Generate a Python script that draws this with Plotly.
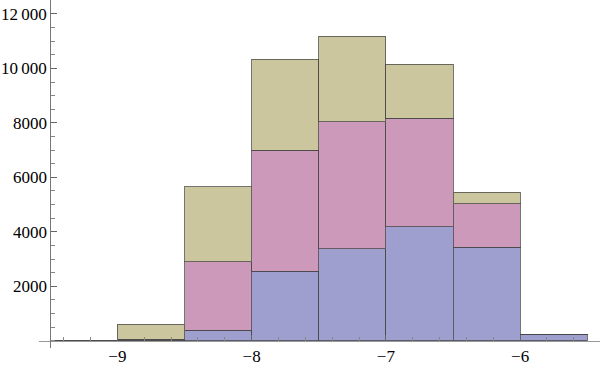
"""Stacked histogram, Mathematica look."""

import plotly.graph_objects as go

# bin centres (bin width 0.5, from -9.5 to -5.5)
bin_centers = [-9.25, -8.75, -8.25, -7.75, -7.25, -6.75, -6.25, -5.75]
blue_counts = [5, 20, 393, 2550, 3369, 4190, 3431, 230]
pink_counts = [10, 40, 2498, 4445, 4677, 3980, 1591, 10]
tan_counts = [10, 540, 2756, 3343, 3137, 1984, 430, 6]

x_tickvals = [-9, -8, -7, -6]
x_ticktext = ["\u22129", "\u22128", "\u22127", "\u22126"]
y_tickvals = [2000, 4000, 6000, 8000, 10000, 12000]
y_ticktext = ["2000", "4000", "6000", "8000", "10\u2009000", "12\u2009000"]

edge = dict(color="rgba(70,70,70,0.75)", width=1)
serif = "Liberation Serif, DejaVu Serif, serif"

fig = go.Figure()
for counts, color in [(blue_counts, "#9f9fcf"), (pink_counts, "#cc99bb"), (tan_counts, "#ccc69e")]:
    fig.add_trace(go.Bar(x=bin_centers, y=counts, width=0.5, marker=dict(color=color, line=edge), showlegend=False))

fig.update_layout(
    template="none",
    barmode="stack",
    width=600, height=366,
    margin=dict(l=39, r=0, t=0, b=18),
    plot_bgcolor="white", paper_bgcolor="white",
    font=dict(family=serif, size=17, color="black"),
    xaxis=dict(
        range=[-9.584, -5.405], showgrid=False, zeroline=False,
        showline=True, linecolor="#999999", linewidth=1,
        anchor="free", position=0.021,
        tickvals=x_tickvals, ticktext=x_ticktext,
        tickfont=dict(family=serif, size=17, color="black"),
        ticks="inside", ticklen=6, tickcolor="#666666",
        minor=dict(dtick=0.2, tick0=-9, ticks="inside", ticklen=3.5, tickcolor="#888888", showgrid=False),
    ),
    yaxis=dict(
        range=[-268, 12514], showgrid=False, zeroline=False,
        showline=True, linecolor="#777777", linewidth=1,
        anchor="free", position=0.0201,
        tickvals=y_tickvals, ticktext=y_ticktext,
        tickfont=dict(family=serif, size=17, color="black"),
        ticks="inside", ticklen=6, tickcolor="#666666",
        minor=dict(dtick=500, tick0=0, ticks="inside", ticklen=3.5, tickcolor="#888888", showgrid=False),
    ),
)

fig.write_html("out.html", config={"displayModeBar": False}, post_script="document.body.style.margin='0';")
